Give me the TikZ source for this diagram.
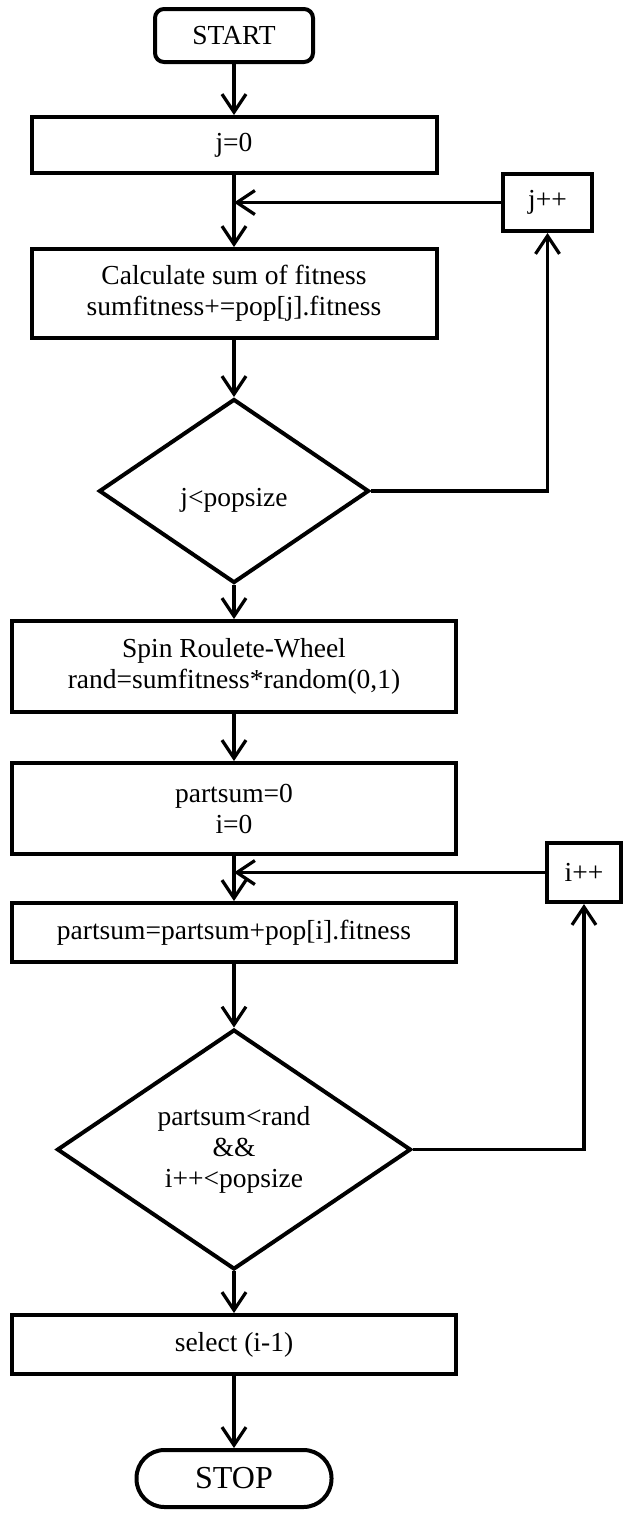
\documentclass[tikz,border=0pt]{standalone}
\usepackage{fontspec}
\setmainfont{Liberation Serif}
\usetikzlibrary{shapes.geometric,arrows.meta}
\begin{document}
\begin{tikzpicture}[x=1pt,y=-1pt,
  box/.style={draw, line width=4pt, inner sep=0pt, align=center,
    font=\fontsize{27.5}{31}\selectfont},
  dia/.style={draw, diamond, line width=4pt, inner sep=0pt, align=center,
    font=\fontsize{27.5}{31}\selectfont},
  arr/.style={line width=3.2pt, -{Straight Barb[length=18pt,width=24pt,line width=3.2pt]}},
  ln/.style={line width=3.2pt}]
\useasboundingbox (0,0) rectangle (623,1513);
\node[box, rounded corners=9pt, minimum width=158pt, minimum height=53pt] (start) at (234,35.5) {START};
\node[box, minimum width=405pt, minimum height=56pt] (j0) at (234,145) {j=0};
\node[box, minimum width=89pt, minimum height=57pt] (jpp) at (547.5,202.5) {j++};
\node[box, minimum width=405pt, minimum height=89pt] (calc) at (234,293.5) {Calculate sum of fitness\\sumfitness+=pop[j].fitness};
\node[dia, minimum width=270pt, minimum height=184pt, text height=37pt, text depth=6pt] (d1) at (234,491) {j<popsize};
\node[box, minimum width=444pt, minimum height=91pt] (spin) at (234,666.5) {Spin Roulete-Wheel\\rand=sumfitness*random(0,1)};
\node[box, minimum width=444pt, minimum height=91pt] (ps0) at (234,808.5) {partsum=0\\i=0};
\node[box, minimum width=74pt, minimum height=59pt] (ipp) at (584,872.5) {i++};
\node[box, minimum width=444pt, minimum height=59pt] (ps) at (234,932.5) {partsum=partsum+pop[i].fitness};
\node[dia, minimum width=354pt, minimum height=225pt] (d2) at (234,1149.5) {partsum<rand\\\&\&\\i++<popsize};
\node[box, minimum width=444pt, minimum height=59pt] (sel) at (234,1344.5) {select (i-1)};
\node[box, rounded corners=28pt, minimum width=195pt, minimum height=57pt, font=\fontsize{32}{36}\selectfont] (stop) at (234,1478.5) {STOP};

\coordinate (m1) at (j0.south |- jpp.west);
\coordinate (m2) at (ps0.south |- ipp.west);
\draw[arr] (start.south) -- (j0.north);
\draw[arr] (j0.south) -- (calc.north);
\draw[arr] (jpp.west) -- (m1);
\draw[arr] (calc.south) -- (d1.north);
\draw[arr] (d1.east) -| (jpp.south);
\draw[arr] (d1.south) -- (spin.north);
\draw[arr] (spin.south) -- (ps0.north);
\draw[arr] (ps0.south) -- (ps.north);
\draw[arr] (ipp.west) -- (m2);
\draw[arr] (ps.south) -- (d2.north);
\draw[arr] (d2.east) -| (ipp.south);
\draw[arr] (d2.south) -- (sel.north);
\draw[arr] (sel.south) -- (stop.north);
\end{tikzpicture}
\end{document}
